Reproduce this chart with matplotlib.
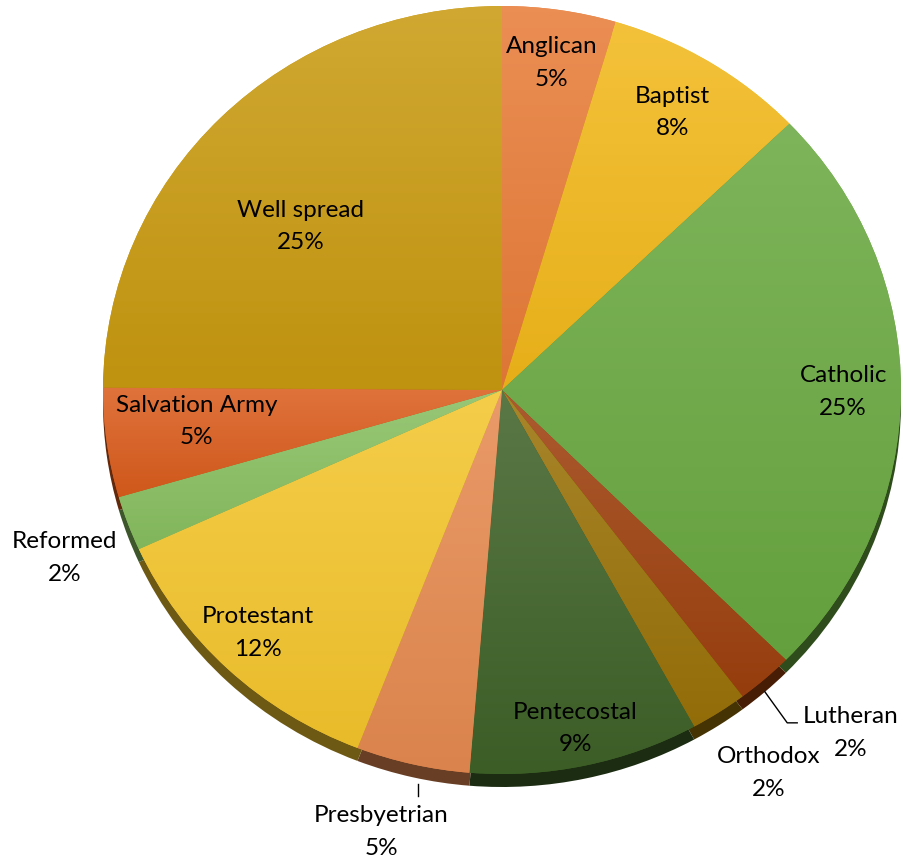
import matplotlib.pyplot as plt
import numpy as np
from matplotlib.colors import to_rgb

# data (share of respondents, %)
labels = ['Anglican', 'Baptist', 'Catholic', 'Lutheran', 'Orthodox', 'Pentecostal',
          'Presbyetrian', 'Protestant', 'Reformed', 'Salvation Army', 'Well spread']
shares = [4.6, 8.2, 24.6, 2.3, 2.3, 9.3, 4.6, 12.3, 2.3, 4.6, 24.9]

# styling
colors = ['#E87C38', '#F2B81A', '#69A840', '#9E400E', '#9A7208', '#3F6228',
          '#E68A50', '#F4C52C', '#88BF60', '#DA5C1C', '#C99A10']
lab_r = [0.86, 0.84, 0.855, 1.25, 1.2, 0.9, 1.19, 0.88, 1.18, 0.77, 0.66]
lab_dt = [0, -0.7, 0, -3.2, -0.9, 0.3, 1.8, 0.6, -1.4, 1.8, -5]

W, H = 904, 866
cx, cy = 502, 390        # pie centre in px (from top)
rx, ry = 399, 384        # pie radii in px
depth = 13 / ry

plt.rcParams['font.family'] = ['Lato', 'DejaVu Sans']

fig = plt.figure(figsize=(W / 100, H / 100), dpi=100)
ax = fig.add_axes([0, 0, 1, 1])

# side wall of the "3D" pie
dark = [np.array(to_rgb(c)) * 0.45 for c in colors]
ax.pie(shares, colors=dark, startangle=90, counterclock=False,
       center=(0, -depth), radius=1)
wedges, _ = ax.pie(shares, colors=colors, startangle=90, counterclock=False,
                   center=(0, 0), radius=1)

# vertical gradient on each slice
g = np.linspace(0, 1, 256)[:, None, None]
for w, c in zip(wedges, colors):
    base = np.array(to_rgb(c))
    top = base + (1 - base) * 0.14
    bot = base * 0.95
    img = top * (1 - g) + bot * g
    ext = w.get_path().get_extents()
    im = ax.imshow(img, extent=[ext.x0, ext.x1, ext.y0, ext.y1], origin='upper',
                   aspect='auto', zorder=w.get_zorder() + 0.1, interpolation='bilinear')
    im.set_clip_path(w)

ax.set_aspect('auto')
ax.set_xlim(-cx / rx, (W - cx) / rx)
ax.set_ylim(-(H - cy) / ry, cy / ry)
ax.axis('off')

# labels
total = sum(shares)
cum = np.cumsum([0] + shares[:-1])
pos = {}
for name, v, c0, r, dt in zip(labels, shares, cum, lab_r, lab_dt):
    mid = np.deg2rad((c0 + v / 2) / total * 360 + dt)
    x, y = r * np.sin(mid), r * np.cos(mid)
    pos[name] = (x, y)
    ax.text(x, y, f'{name}\n{v / total * 100:.0f}%', ha='center', va='center',
            multialignment='center', fontsize=17.5, linespacing=1.68, color='black', zorder=10)

# leader lines
lx, ly = pos['Lutheran']
i = labels.index('Lutheran')
a = np.deg2rad((cum[i] + shares[i] / 2) / total * 360)
ax.plot([np.sin(a) * 1.0, lx - 0.16, lx - 0.135],
        [np.cos(a) * 1.0 - depth, ly + 0.026, ly + 0.026], color='black', lw=1, zorder=10)
px, py = pos['Presbyetrian']
ax.plot([px + 0.093, px + 0.093], [py + 0.125, py + 0.094], color='black', lw=1, zorder=10)

fig.savefig('out.png', dpi=100)
